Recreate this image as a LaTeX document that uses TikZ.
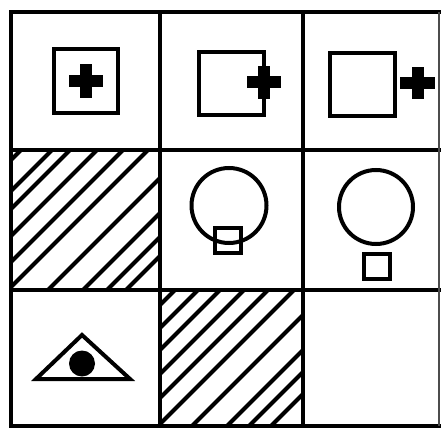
\documentclass[tikz,border=0pt]{standalone}
\begin{document}
\begin{tikzpicture}[x=1pt,y=-1pt,
  gridline/.style={line width=4.5pt,line cap=rect},
  shapeline/.style={line width=4pt},
  hatchline/.style={line width=4pt},
  crossfill/.style={fill=black}]
\useasboundingbox (0,0) rectangle (443,430);
% hatching cell 4 (x 11..160, y 150..290)
\begin{scope}
\clip (11,150) rectangle (160,290);
\foreach \c in {10,41,59,86,112,137,177,212,236,255}{
  \draw[hatchline] ({161+\c-130},130) -- ({161+\c-310},310);
}
\end{scope}
% hatching cell 8 (x 160..303, y 290..426)
\begin{scope}
\clip (160,290) rectangle (303,426);
\foreach \c in {15,38,60,84,108,134,168,203,225,247}{
  \draw[hatchline] ({450+\c-270},270) -- ({450+\c-446},446);
}
\end{scope}
% grid
\draw[gridline] (11,12) -- (439,12);
\draw[gridline] (11,150) -- (439,150);
\draw[gridline] (11,290) -- (439,290);
\draw[gridline] (11,426) -- (439,426);
\draw[gridline] (11,12) -- (11,426);
\draw[gridline] (160,12) -- (160,426);
\draw[gridline] (303,12) -- (303,426);
\draw[line width=2pt,black!70] (439,12) -- (439,426);
% cell 1
\draw[shapeline] (54,49) rectangle (118,113);
\fill[crossfill] (69,75) rectangle (103,87);
\fill[crossfill] (80,64) rectangle (92,98);
% cell 2
\draw[shapeline] (199,52) rectangle (264,115);
\fill[crossfill] (247,76) rectangle (281,88);
\fill[crossfill] (258,66) rectangle (270,99);
% cell 3
\draw[shapeline] (330,53) rectangle (395,116);
\fill[crossfill] (400,77) rectangle (435,89);
\fill[crossfill] (412,67) rectangle (424,99);
% cell 5
\draw[shapeline] (229,205.5) circle[radius=37.5];
\draw[shapeline] (215,228) rectangle (241,253);
% cell 6
\draw[shapeline] (376,207) circle[radius=37];
\draw[shapeline] (364,254) rectangle (390,279);
% cell 7
\draw[shapeline,line join=miter] (82,335) -- (130,379) -- (36,379) -- cycle;
\fill (82,363.5) circle[radius=13];
\end{tikzpicture}
\end{document}
